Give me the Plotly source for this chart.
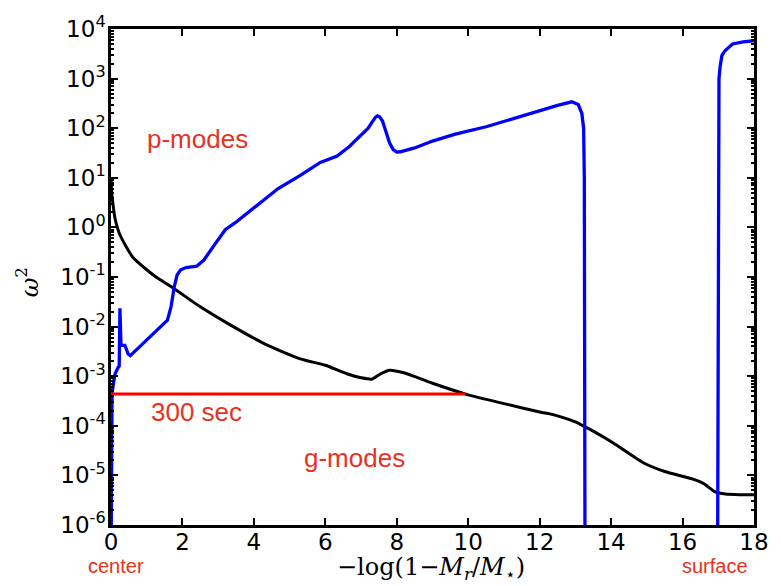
import plotly.graph_objects as go

# Brunt-Vaisala frequency N^2 (inner region, up to the convective boundary)
bv_inner_x = [0.0, 0.005, 0.01, 0.02, 0.03, 0.06, 0.11, 0.2, 0.23, 0.25, 0.265, 0.28, 0.39,
              0.48, 0.54, 0.8, 1.2, 1.58, 1.68, 1.77, 1.85, 1.95, 2.1, 2.4, 2.6, 2.9,
              3.2, 3.47, 4.0, 4.67, 5.3, 5.86, 6.33, 6.69, 6.88, 7.2, 7.3, 7.4, 7.46,
              7.52, 7.6, 7.7, 7.8, 7.9, 8.0, 8.1, 8.5, 9.0, 9.64, 10.5, 11.3, 12.0,
              12.5, 12.9, 13.08, 13.18, 13.23, 13.25, 13.26, 13.27]
bv_inner_y = [1e-7, 2e-5, 1e-4, 3e-4, 4.6e-4, 6.5e-4, 1.1e-3, 1.5e-3, 1.6e-3, 2.35e-2,
              5e-3, 4.2e-3, 4.2e-3, 2.8e-3, 2.6e-3, 4.0e-3, 7.4e-3, 1.35e-2, 2.5e-2,
              6.3e-2, 1.1e-1, 1.4e-1, 1.55e-1, 1.65e-1, 2.2e-1, 4.5e-1, 9.0e-1, 1.23,
              2.5, 6.0, 11.2, 20.4, 27.5, 43.7, 60.0, 100.0, 130.0, 165.0, 177.0,
              170.0, 140.0, 85.0, 50.0, 37.0, 33.0, 33.5, 40.0, 55.0, 76.0, 107.0,
              158.0, 229.0, 288.0, 340.0, 300.0, 200.0, 100.0, 10.0, 1e-3, 1e-7]

# Brunt-Vaisala frequency N^2 (outer envelope)
bv_outer_x = [16.98, 16.99, 17.0, 17.02, 17.05, 17.1, 17.18, 17.4, 17.7, 18.0]
bv_outer_y = [1e-7, 1e-2, 100.0, 1000.0, 1700.0, 2900.0, 3600.0, 5000.0, 5500.0, 5800.0]

# Lamb frequency S_l^2
lamb_x = [0.0, 0.02, 0.06, 0.11, 0.25, 0.61, 1.0, 1.26, 1.77, 2.5, 3.3, 4.3, 5.3, 6.0,
          6.6, 7.0, 7.3, 7.55, 7.8, 8.2, 9.0, 10.0, 11.0, 12.0, 12.4, 13.0, 13.3, 13.5,
          14.06, 14.9, 15.5, 16.27, 16.6, 16.9, 17.2, 17.6, 18.0]
lamb_y = [10.0, 5.0, 2.8, 1.55, 0.71, 0.25, 0.14, 0.1, 0.058, 0.025, 0.0112, 4.5e-3,
          2.24e-3, 1.66e-3, 1.12e-3, 9.3e-4, 8.7e-4, 1.12e-3, 1.32e-3, 1.17e-3, 7.2e-4,
          4.2e-4, 2.8e-4, 1.9e-4, 1.66e-4, 1.2e-4, 9.3e-5, 7.8e-5, 4.5e-5, 1.8e-5,
          1.2e-5, 8.5e-6, 6.8e-6, 4.7e-6, 4.2e-6, 4.07e-6, 4.07e-6]

# 300 s mode frequency
period_x = [0.0, 9.92]
period_y = [4.4e-4, 4.4e-4]

ytick_vals = [1e-6, 1e-5, 1e-4, 1e-3, 1e-2, 1e-1, 1e0, 1e1, 1e2, 1e3, 1e4]
ytick_text = ["10<sup>-6</sup>", "10<sup>-5</sup>", "10<sup>-4</sup>", "10<sup>-3</sup>",
              "10<sup>-2</sup>", "10<sup>-1</sup>", "10<sup>0</sup>", "10<sup>1</sup>",
              "10<sup>2</sup>", "10<sup>3</sup>", "10<sup>4</sup>"]
xtick_vals = [0, 2, 4, 6, 8, 10, 12, 14, 16, 18]

RED = "#e8321e"
TXT_FONT = "Liberation Sans, Arial, sans-serif"

fig = go.Figure()
fig.add_trace(go.Scatter(x=lamb_x, y=lamb_y, mode="lines",
                         line=dict(color="black", width=3, shape="spline", smoothing=0.6)))
fig.add_trace(go.Scatter(x=bv_inner_x, y=bv_inner_y, mode="lines",
                         line=dict(color="#0000ff", width=3.3)))
fig.add_trace(go.Scatter(x=bv_outer_x, y=bv_outer_y, mode="lines",
                         line=dict(color="#0000ff", width=3.3)))
fig.add_trace(go.Scatter(x=period_x, y=period_y, mode="lines",
                         line=dict(color="#ff0000", width=3)))

axis_common = dict(showgrid=False, zeroline=False, showline=True, linecolor="black",
                   linewidth=2.5, mirror="allticks", ticks="inside", ticklen=7,
                   tickwidth=2, tickcolor="black",
                   tickfont=dict(family="DejaVu Sans", size=23, color="black"))

fig.update_layout(
    width=781, height=586,
    margin=dict(l=111, r=19, t=21, b=61),
    paper_bgcolor="white", plot_bgcolor="white",
    showlegend=False,
    xaxis=dict(range=[0, 18], tickvals=xtick_vals, ticklabelstandoff=-5, **axis_common),
    yaxis=dict(type="log", range=[-6, 4], tickvals=ytick_vals, ticktext=ytick_text,
               ticklabelstandoff=-2,
               minor=dict(ticks="inside", ticklen=3.5, tickwidth=1.5, tickcolor="black",
                          dtick="D1", showgrid=False),
               **axis_common),
)

def label(x, y, text, size, ref="data", family=TXT_FONT, color=RED, angle=0):
    xr, yr = ("x", "y") if ref == "data" else ("paper", "paper")
    return dict(x=x, y=y, xref=xr, yref=yr, text=text, showarrow=False,
                xanchor="center", yanchor="middle", textangle=angle,
                font=dict(family=family, size=size, color=color))

annotations = [
    label(2.43, 1.78, "p-modes", 26),
    label(2.4, -3.72, "300 sec", 26),
    label(6.82, -4.65, "g-modes", 26),
    label(0.0084, -0.083, "center", 20, ref="paper"),
    label(0.94, -0.083, "surface", 20, ref="paper"),
    label(0.4977, -0.088, "−log(1−<i>M<sub>r</sub></i>/<i>M</i><sub>⋆</sub>)", 24,
          ref="paper", family="DejaVu Serif", color="black"),
    label(-0.13, 0.49, "<i>ω</i><sup>2</sup>", 24, ref="paper",
          family="DejaVu Serif", color="black", angle=-90),
]
fig.update_layout(annotations=annotations)

fig.write_html("out.html")
